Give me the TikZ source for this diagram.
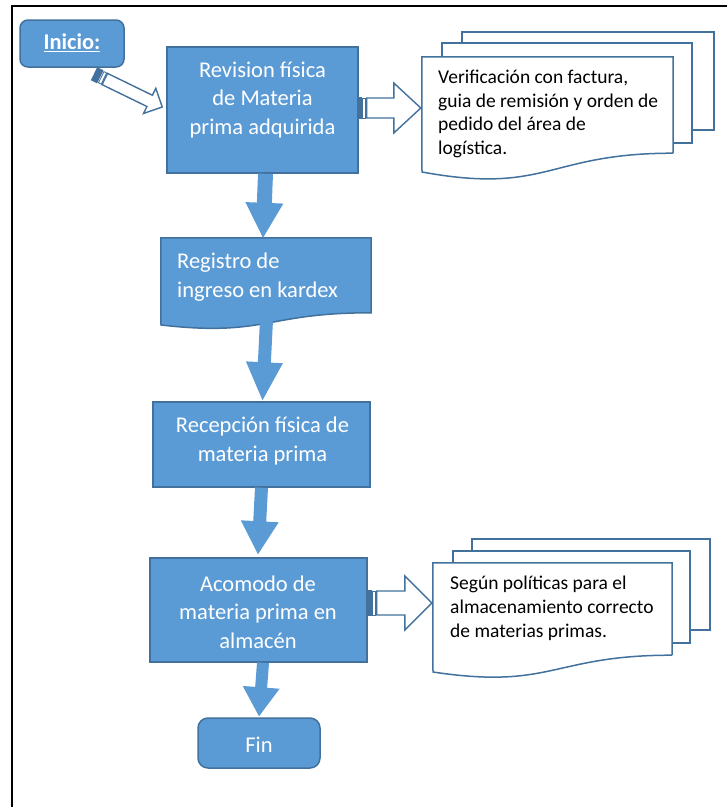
\documentclass[tikz,border=0pt]{standalone}
\usepackage{fontspec}
\setmainfont{Carlito}
\usetikzlibrary{calc}
\definecolor{boxfill}{HTML}{5B9BD5}
\definecolor{boxline}{HTML}{41719C}
\tikzset{
  box/.style={draw=boxline, line width=1.5pt, fill=boxfill, inner sep=0pt},
  boxtext/.style={text=white, font=\fontsize{22.5}{28.5}\selectfont, align=center, inner sep=0pt},
  doctext/.style={text=black, font=\fontsize{19.5}{23.8}\selectfont, align=left, inner sep=0pt, anchor=west},
  sheet/.style={draw=boxline, line width=1.5pt, fill=white, inner sep=0pt},
  downarrow/.style={fill=boxfill},
  hollow/.style={draw=boxline, line width=1.4pt, fill=white, line join=miter},
  stripedark/.style={fill=boxline},
  stripethin/.style={draw=boxline, line width=0.8pt, fill=white},
  frame/.style={draw=black, line width=1.6pt},
}
% #1 style, #2 start, #3 tip, #4 half shaft, #5 half head, #6 head length
\newcommand\fatarrow[6]{%
  \coordinate (faC) at ($#3!#6!#2$);
  \path[#1] ($#2!#4!90:#3$) -- ($(faC)!#4!90:#3$) -- ($(faC)!#5!90:#3$) -- #3
    -- ($(faC)!#5!-90:#3$) -- ($(faC)!#4!-90:#3$) -- ($#2!#4!-90:#3$) -- cycle;
}
% #1 start, #2 tip, #3 half shaft, #4 half head, #5 head length, #6 dark bar length
\newcommand\stripedarrow[6]{%
  \coordinate (saP) at ($#1!#6!#2$);
  \coordinate (saQ) at ($#1!#6+1pt!#2$);
  \coordinate (saR) at ($#1!#6+4pt!#2$);
  \coordinate (saS) at ($#1!#6+5pt!#2$);
  \path[stripedark] ($#1!#3+1pt!90:#2$) -- ($(saP)!#3+1pt!90:#2$)
    -- ($(saP)!#3+1pt!-90:#2$) -- ($#1!#3+1pt!-90:#2$) -- cycle;
  \path[stripethin] ($(saQ)!#3!90:#2$) -- ($(saR)!#3!90:#2$)
    -- ($(saR)!#3!-90:#2$) -- ($(saQ)!#3!-90:#2$) -- cycle;
  \fatarrow{hollow}{(saS)}{#2}{#3}{#4}{#5}%
}
\begin{document}
\begin{tikzpicture}[x=1pt,y=-1pt]
\useasboundingbox (0,0) rectangle (727,807);
\draw[frame] (12,807) -- (12,6) -- (727,6);

% Inicio
\node[box, rounded corners=8pt, minimum width=104pt, minimum height=47pt] (inicio) at (72,43.5) {};
\node[boxtext, font=\bfseries\fontsize{22.5}{28}\selectfont] (iniciotext) at (72,43) {\underline{Inicio:}};

% Revision
\node[box, minimum width=191pt, minimum height=126pt] (rev) at (262.5,110) {};
\node[boxtext] (revtext) at (262.5,100) {Revision física\\de Materia\\prima adquirida};

% Registro (document)
\node[inner sep=0pt, minimum width=210pt, minimum height=74.6pt] (reg) at (266,275.3) {};
\draw[box] (reg.north west) -- (reg.north east) -- (reg.south east)
  .. controls (266,312.6) and (266,337) .. (161,325) -- cycle;
\node[boxtext, align=left, anchor=west] (regtext) at (177,277) {Registro de\\ingreso en kardex};

% Recepcion
\node[box, minimum width=217pt, minimum height=85pt] (rec) at (261.5,444.5) {};
\node[boxtext] (rectext) at (262.5,441) {Recepción física de\\materia prima};

% Acomodo
\node[box, minimum width=217pt, minimum height=104pt] (aco) at (258.5,610) {};
\node[boxtext] (acotext) at (258,612) {Acomodo de\\materia prima en\\almacén};

% Fin
\node[box, rounded corners=10pt, minimum width=122pt, minimum height=50pt] (fin) at (259,743) {};
\node[boxtext] (fintext) at (259,745) {Fin};

% Document stack 1
\node[sheet, minimum width=252pt, minimum height=98pt] (doc1c) at (588,81) {};
\node[sheet, minimum width=250pt, minimum height=100pt] (doc1b) at (567,93) {};
\node[inner sep=0pt, minimum width=251pt, minimum height=96pt] (doc1) at (547.5,105) {};
\draw[sheet] (doc1.south east) -- (doc1.north east) -- (doc1.north west) -- (422,172)
  .. controls (547.5,195) and (547.5,153) .. (doc1.south east);
\node[doctext] (doc1text) at (438,114) {Verificación con factura,\\guia de remisión y orden de\\pedido del área de\\logística.};

% Document stack 2
\node[sheet, minimum width=238pt, minimum height=91pt] (doc2c) at (591,584.5) {};
\node[sheet, minimum width=237pt, minimum height=92pt] (doc2b) at (571.5,597) {};
\node[inner sep=0pt, minimum width=239pt, minimum height=92pt] (doc2) at (552.5,609) {};
\draw[sheet] (doc2.south east) -- (doc2.north east) -- (doc2.north west) -- (433,672)
  .. controls (552.5,690) and (552.5,655) .. (doc2.south east);
\node[doctext] (doc2text) at (450,608.5) {Según políticas para el\\almacenamiento correcto\\de materias primas.};

% Down arrows
\coordinate (a1s) at ([xshift=3pt]rev.south);
\coordinate (a1e) at ([xshift=-3pt]reg.north);
\fatarrow{downarrow}{(a1s)}{(a1e)}{7.5pt}{19pt}{35pt}
\coordinate (a2s) at ([xshift=0.5pt,yshift=-7pt]reg.south);
\coordinate (a2e) at ([xshift=1pt,yshift=1pt]rec.north);
\fatarrow{downarrow}{(a2s)}{(a2e)}{6.5pt}{18.5pt}{38pt}
\coordinate (a3s) at (rec.south);
\coordinate (a3e) at ([xshift=-0.5pt,yshift=3pt]aco.north);
\fatarrow{downarrow}{(a3s)}{(a3e)}{6.5pt}{19pt}{33pt}
\coordinate (a4s) at ([xshift=4.5pt]aco.south);
\coordinate (a4e) at ([yshift=1pt]fin.north);
\fatarrow{downarrow}{(a4s)}{(a4e)}{6pt}{18.5pt}{29pt}

% Hollow striped arrows
\coordinate (b0s) at ([xshift=22pt,yshift=-6pt]inicio.south);
\coordinate (b0e) at ([xshift=-4pt,yshift=3pt]rev.west);
\stripedarrow{(b0s)}{(b0e)}{6.25pt}{14pt}{14pt}{7pt}
\coordinate (b1s) at ([xshift=-1pt,yshift=2pt]rev.east);
\coordinate (b1e) at ([xshift=-1pt,yshift=-3pt]doc1.west);
\stripedarrow{(b1s)}{(b1e)}{10pt}{25pt}{27pt}{4pt}
\coordinate (b2s) at ([yshift=7pt]aco.east);
\coordinate (b2e) at ([xshift=-1pt,yshift=6pt]doc2.west);
\stripedarrow{(b2s)}{(b2e)}{12pt}{27pt}{27pt}{4pt}
\end{tikzpicture}
\end{document}
